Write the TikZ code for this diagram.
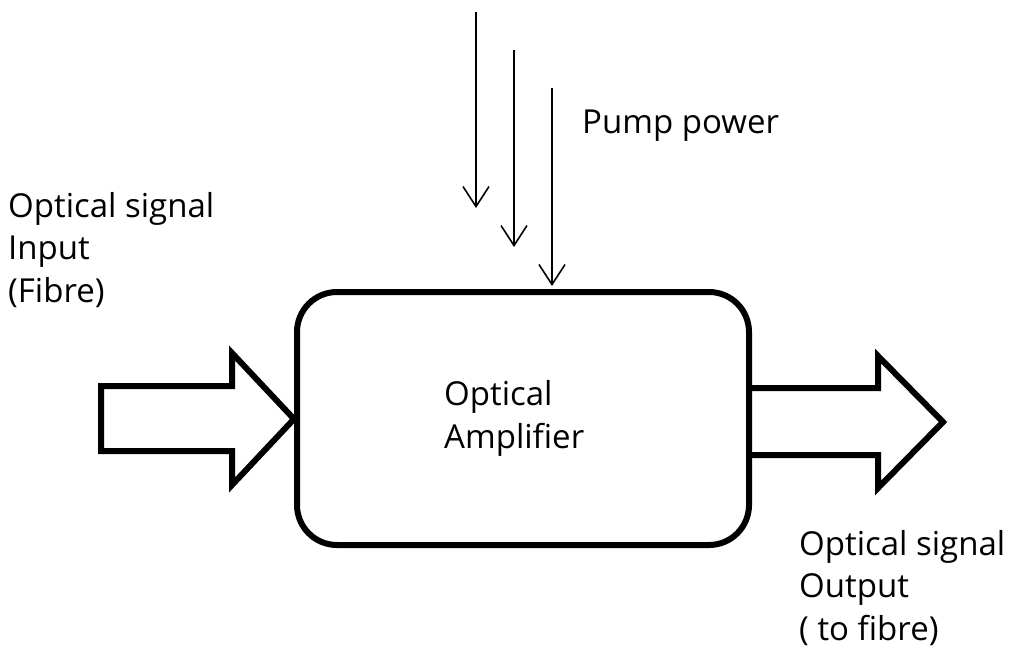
\documentclass[tikz,border=0pt]{standalone}
\usepackage{fontspec}
\setmainfont{Open Sans}[Ligatures=NoCommon]
\usetikzlibrary{arrows.meta}
\tikzset{
  thick outline/.style={line width=6pt, line join=miter},
  pump/.style={line width=1.6pt, -{Straight Barb[length=20pt, width=26pt, line width=1.6pt]}},
  lbl/.style={font=\fontsize{33}{42.5}\selectfont, anchor=base west, inner sep=0pt, align=left},
}
\begin{document}
\begin{tikzpicture}[x=1pt, y=-1pt]
\useasboundingbox (0,0) rectangle (1014,651);
% amplifier box
\draw[thick outline, rounded corners=40pt] (297,292) rectangle (749,545);
% input arrow
\draw[thick outline] (101,386) -- (232,386) -- (232,353) -- (294,419) -- (232,485) -- (232,451) -- (101,451) -- cycle;
% output arrow
\draw[thick outline] (749,388) -- (878,388) -- (878,356) -- (943,422) -- (878,488) -- (878,455) -- (749,455);
% pump arrows
\coordinate (p1s) at (476,12); \coordinate (p1e) at (476,208);
\coordinate (p2s) at (514,50); \coordinate (p2e) at (514,247);
\coordinate (p3s) at (552,88); \coordinate (p3e) at (552,286);
\draw[pump] (p1s) -- (p1e);
\draw[pump] (p2s) -- (p2e);
\draw[pump] (p3s) -- (p3e);
% labels (base anchor = baseline of last line)
\node[lbl] (pump) at (582,133) {Pump power};
\node[lbl] (inlbl) at (8,302) {Optical signal\\Input\\(Fibre)};
\node[lbl] (amplbl) at (444,448) {Optical\\Amplifier};
\node[lbl] (outlbl) at (799,640) {Optical signal\\Output\\( to fibre)};
\end{tikzpicture}
\end{document}
